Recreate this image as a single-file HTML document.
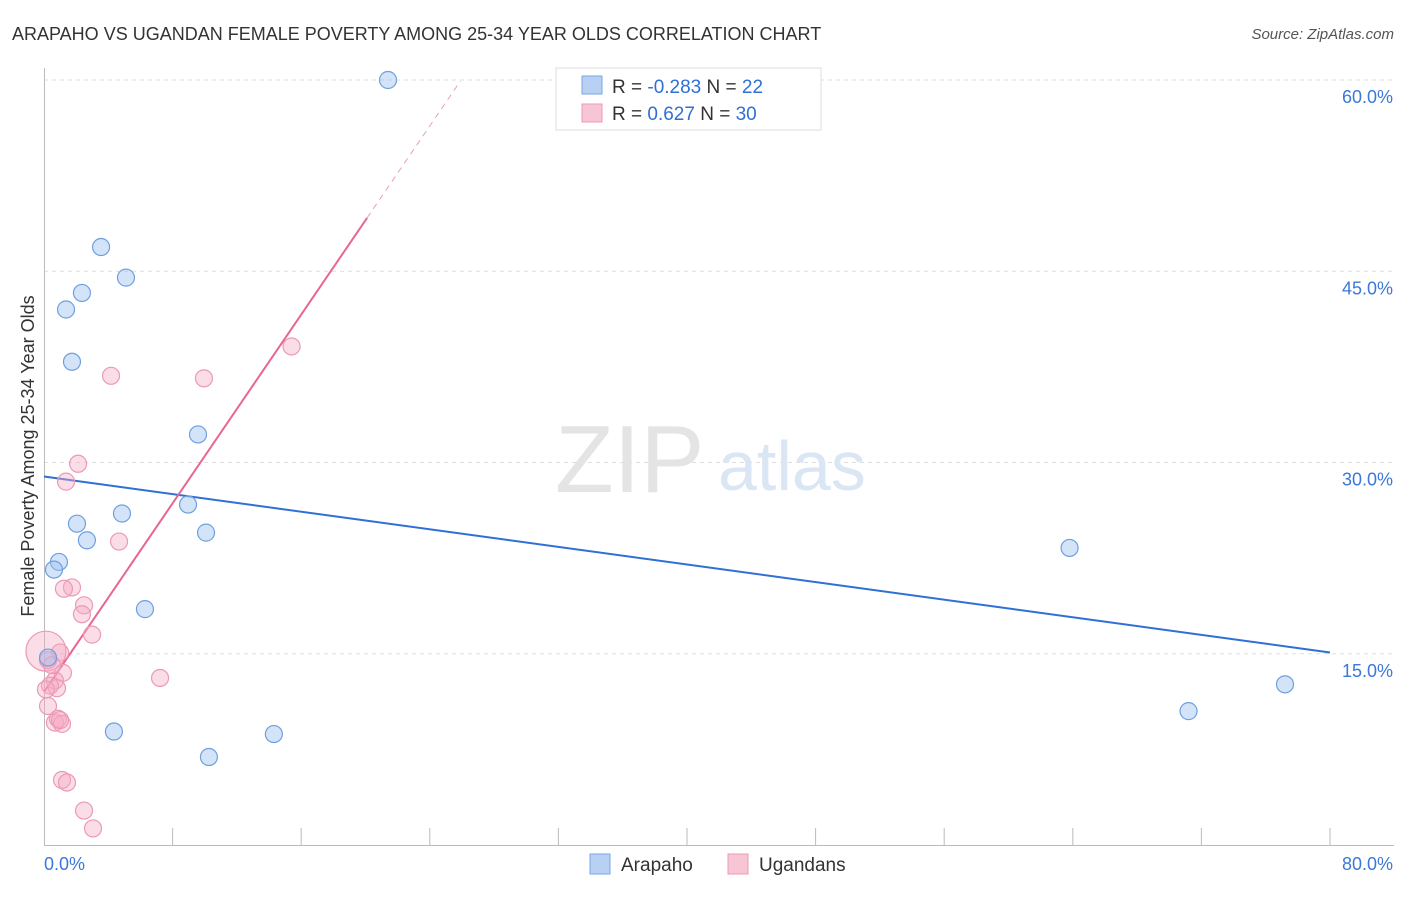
<!DOCTYPE html>
<html><head><meta charset="utf-8"><style>
body{margin:0;background:#fff;font-family:"Liberation Sans",sans-serif}
svg text{font-family:"Liberation Sans",sans-serif}
</style></head><body>
<svg width="1406" height="892">
<text x="12" y="40" font-size="18" fill="#333">ARAPAHO VS UGANDAN FEMALE POVERTY AMONG 25-34 YEAR OLDS CORRELATION CHART</text>
<text x="1394" y="39" font-size="15" fill="#555" text-anchor="end" font-style="italic">Source: ZipAtlas.com</text>
<g id="grid"></g>
<text x="555" y="492" font-size="96" fill="#e4e4e4" font-family="Liberation Serif">ZIP</text>
<text x="718" y="490" font-size="70" fill="#dbe6f5">atlas</text>
<line x1="44.5" y1="68" x2="44.5" y2="845" stroke="#bbb"/>
<line x1="44" y1="845.5" x2="1394" y2="845.5" stroke="#bbb"/>
<g id="ticks"></g>
<text transform="translate(34,456) rotate(-90)" font-size="18" fill="#333" text-anchor="middle">Female Poverty Among 25-34 Year Olds</text>
<g id="lines"></g>
<g id="pts"></g>
<g>
<rect x="556" y="68" width="265" height="62" fill="#fff" stroke="#ddd"/>
<rect x="582" y="76" width="20" height="18" fill="#b8d0f3" stroke="#7aa6e3"/>
<rect x="582" y="104" width="20" height="18" fill="#f8c5d4" stroke="#ec9ab4"/>
<text x="612" y="93" font-size="19" fill="#333">R = <tspan fill="#2f6fd6">-0.283</tspan>   N = <tspan fill="#2f6fd6">22</tspan></text>
<text x="612" y="120" font-size="19" fill="#333">R =  <tspan fill="#2f6fd6"> 0.627</tspan>   N = <tspan fill="#2f6fd6">30</tspan></text>
</g>
<g>
<rect x="590" y="854" width="20" height="20" fill="#b8d0f3" stroke="#7aa6e3"/>
<text x="621" y="871" font-size="19" fill="#333">Arapaho</text>
<rect x="728" y="854" width="20" height="20" fill="#f8c5d4" stroke="#ec9ab4"/>
<text x="759" y="871" font-size="19" fill="#333">Ugandans</text>
</g>
</svg>
<script>
const xTicks=[0,80];
const yTicks=[15,30,45,60];
const blueX=[21.4,3.55,5.1,2.36,1.37,1.74,9.58,8.96,4.85,2.05,10.08,2.67,0.93,0.62,6.28,0.25,4.35,10.26,14.3,63.8,71.2,77.2];
const blueY=[60.0,46.9,44.5,43.3,42.0,37.9,32.2,26.7,26.0,25.2,24.5,23.9,22.2,21.6,18.5,14.7,8.9,6.9,8.7,23.3,10.5,12.6];
const pinkX=[15.4,4.17,9.95,2.12,1.37,4.67,1.74,1.24,2.49,2.36,2.99,7.22,1.0,0.12,1.18,0.68,0.81,0.25,0.25,0.68,0.87,1.12,1.0,1.12,1.43,2.49,3.05,0.37,0.12,0.5];
const pinkY=[39.1,36.8,36.6,29.9,28.5,23.8,20.2,20.1,18.8,18.1,16.5,13.1,15.1,15.2,13.5,12.9,12.3,14.5,10.9,9.6,9.9,9.5,9.8,5.1,4.9,2.7,1.3,12.5,12.2,14.1];
const blueTrend=[28.9,15.1];
const pinkTrend=[12.0,1.85];
const sx=v=>44+v*16.075, sy=v=>845-v*12.75;
const NS="http://www.w3.org/2000/svg";
function mk(t,a,p){const e=document.createElementNS(NS,t);for(const k in a)e.setAttribute(k,a[k]);p.appendChild(e);return e;}
const grid=document.getElementById('grid'),ticks=document.getElementById('ticks');
yTicks.forEach(v=>{
 const l=mk('line',{x1:44,x2:1394,y1:sy(v),y2:sy(v),stroke:'#ddd','stroke-dasharray':'4,4'},grid);
 
 
 const t=mk('text',{x:1393,y:sy(v)+23,'font-size':18,fill:'#3b78d8','text-anchor':'end'},ticks);
 t.textContent=v.toFixed(1)+'%';
 
 
});
for(let i=1;i<=10;i++){
 const l=mk('line',{x1:sx(i*8),x2:sx(i*8),y1:828,y2:845,stroke:'#bbb'},ticks);
 
 
}
xTicks.forEach((v,i)=>{
 const t=mk('text',{x:i?1393:44,y:870,'font-size':18,fill:'#3b78d8','text-anchor':i?'end':'start'},ticks);
 t.textContent=v.toFixed(1)+'%';
 
 
});
const lines=document.getElementById('lines');
let bl=mk('line',{x1:sx(0),y1:sy(blueTrend[0]),x2:sx(80),y2:sy(blueTrend[1]),stroke:'#2f6fd6','stroke-width':2},lines);


let pl=mk('line',{x1:sx(0),y1:sy(pinkTrend[0]),x2:sx(20.1),y2:sy(pinkTrend[0]+pinkTrend[1]*20.1),stroke:'#e8668f','stroke-width':2},lines);


let pd=mk('line',{x1:sx(20.1),y1:sy(pinkTrend[0]+pinkTrend[1]*20.1),x2:sx(25.9),y2:sy(pinkTrend[0]+pinkTrend[1]*25.9),stroke:'#e8a0b8','stroke-width':1,'stroke-dasharray':'6,5'},lines);


const pts=document.getElementById('pts');
pinkX.forEach((x,i)=>{
 const c=mk('circle',{cx:sx(x),cy:sy(pinkY[i]),r:i==13?20:8.5,fill:'rgba(245,170,195,0.4)',stroke:'#ec9ab4','stroke-width':1.2},pts);
 
 
});
blueX.forEach((x,i)=>{
 const c=mk('circle',{cx:sx(x),cy:sy(blueY[i]),r:8.5,fill:'rgba(160,195,240,0.45)',stroke:'#6f9fe0','stroke-width':1.2},pts);
 
 
});
</script>
</body></html>
